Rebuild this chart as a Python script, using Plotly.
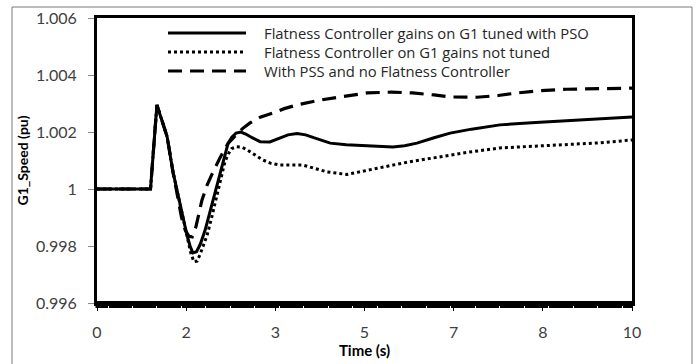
import plotly.graph_objects as go

# ---------------- data ----------------
t_tuned = [0, 1.0, 1.12, 1.31, 1.42, 1.55, 1.68, 1.74, 1.79, 1.86, 1.93, 2.02, 2.11, 2.20, 2.30,
           2.38, 2.45, 2.52, 2.60, 2.69, 2.78, 2.90, 3.05, 3.23, 3.40, 3.57, 3.74, 3.90, 4.05,
           4.36, 4.66, 4.97, 5.25, 5.53, 5.75, 5.98, 6.3, 6.6, 7.0, 7.53, 8.2, 8.78, 9.4, 10]
v_tuned = [1.0, 1.0, 1.00295, 1.00184, 1.0006, 0.99944, 0.99839, 0.99800, 0.99776, 0.99780,
           0.99806, 0.99855, 0.99919, 0.99990, 1.0006, 1.00118, 1.00160, 1.00182, 1.00196,
           1.0020, 1.00193, 1.00180, 1.00166, 1.00165, 1.00178, 1.00190, 1.00195, 1.00190,
           1.0018, 1.00161, 1.00155, 1.00153, 1.00150, 1.00147, 1.00152, 1.00161, 1.00180,
           1.00196, 1.0021, 1.00225, 1.00233, 1.00239, 1.00245, 1.00253]

t_untuned = [0, 1.0, 1.12, 1.31, 1.42, 1.55, 1.68, 1.75, 1.81, 1.87, 1.93, 2.06, 2.15, 2.24,
             2.32, 2.39, 2.46, 2.52, 2.61, 2.70, 2.80, 2.90, 3.10, 3.25, 3.42, 3.85, 4.10,
             4.30, 4.67, 5.05, 5.35, 5.80, 6.28, 6.9, 7.53, 8.2, 8.78, 9.4, 10]
v_untuned = [1.0, 1.0, 1.00295, 1.00184, 1.0006, 0.99944, 0.99839, 0.99778, 0.99745, 0.99747,
             0.99772, 0.99839, 0.99905, 0.99979, 1.00045, 1.00095, 1.00125, 1.00142, 1.00148,
             1.00147, 1.00138, 1.00126, 1.00102, 1.0009, 1.00084, 1.00084, 1.00072, 1.0006,
             1.00051, 1.00067, 1.00077, 1.00094, 1.00109, 1.00128, 1.00144, 1.0015, 1.00154,
             1.00162, 1.00172]

t_pss = [0, 1.0, 1.12, 1.31, 1.42, 1.50, 1.58, 1.65, 1.72, 1.78, 1.85, 1.96, 2.06, 2.15, 2.30,
         2.45, 2.60, 2.72, 2.86, 3.05, 3.29, 3.50, 3.74, 4.17, 4.54, 5.05, 5.5, 5.9, 6.3, 6.6,
         7.1, 7.5, 7.85, 8.3, 8.78, 10]
v_pss = [1.0, 1.0, 1.00295, 1.00184, 1.0006, 0.99975, 0.99900, 0.99855, 0.99834, 0.99832,
         0.99868, 0.99960, 1.00015, 1.00052, 1.0011, 1.00160, 1.0019, 1.00212, 1.00232,
         1.00252, 1.00267, 1.00282, 1.00295, 1.00312, 1.00323, 1.00337, 1.0034, 1.00337,
         1.0033, 1.00323, 1.00322, 1.00328, 1.00337, 1.00345, 1.0035, 1.00354]

series_names = ["Flatness Controller gains on G1 tuned with PSO",
                "Flatness Controller on G1 gains not tuned",
                "With PSS and no Flatness Controller"]

x_tickvals = [0, 10 / 6, 20 / 6, 5, 40 / 6, 50 / 6, 10]
x_ticktext = ["0", "2", "3", "5", "7", "8", "10"]
y_tickvals = [0.996, 0.998, 1.0, 1.002, 1.004, 1.006]
y_ticktext = ["0.996", "0.998", "1", "1.002", "1.004", "1.006"]

# ---------------- styling ----------------
W, H = 699, 364
ML, MR, MT, MB = 97, 67, 18, 61
PW, PH = W - ML - MR, H - MT - MB
FONT = "Lato"
LEGEND_FONT = "Open Sans"
styles = [dict(color="black", width=3, dash="solid"),
          dict(color="black", width=3, dash="dot"),
          dict(color="black", width=3.2, dash="14px,8px")]


def px_x(p):
    return (p - ML) / PW


def px_y(p):
    return (H - MB - p) / PH


fig = go.Figure()
for t, v, name, st in [(t_pss, v_pss, series_names[2], styles[2]),
                       (t_untuned, v_untuned, series_names[1], styles[1]),
                       (t_tuned, v_tuned, series_names[0], styles[0])]:
    fig.add_trace(go.Scatter(x=t, y=v, mode="lines", name=name,
                             line=dict(shape="linear", **st),
                             showlegend=False))

shapes = []
# outer frame
shapes.append(dict(type="rect", xref="paper", yref="paper",
                   x0=px_x(12), x1=px_x(692), y0=px_y(380), y1=px_y(7),
                   line=dict(color="#7a7a7a", width=1), layer="below"))
# thick bottom band (dense category tick marks)
shapes.append(dict(type="rect", xref="paper", yref="paper",
                   x0=px_x(95.5), x1=px_x(633), y0=px_y(308), y1=px_y(301),
                   line=dict(width=0), fillcolor="black", layer="below"))

annotations = []
rows = [33, 52, 71]
for i, (name, st) in enumerate(zip(series_names, styles)):
    shapes.append(dict(type="line", xref="paper", yref="paper",
                       x0=px_x(168), x1=px_x(246), y0=px_y(rows[i]), y1=px_y(rows[i]),
                       line=st))
    annotations.append(dict(xref="paper", yref="paper", x=px_x(263), y=px_y(rows[i]),
                            text=name, showarrow=False, xanchor="left", yanchor="middle",
                            borderpad=0,
                            font=dict(family=LEGEND_FONT, size=14.8, color="#262626")))

fig.update_layout(
    width=W, height=H,
    margin=dict(l=ML, r=MR, t=MT, b=MB, autoexpand=False),
    paper_bgcolor="white", plot_bgcolor="white",
    font=dict(family=FONT, size=16, color="#404040"),
    shapes=shapes, annotations=annotations,
    showlegend=False,
)
fig.update_xaxes(range=[0, 10], tickvals=x_tickvals, ticktext=x_ticktext,
                 automargin=False,
                 showgrid=False, zeroline=False,
                 showline=True, linecolor="black", linewidth=3, mirror=True,
                 ticks="outside", ticklen=5, tickcolor="black", tickwidth=1,
                 ticklabelstandoff=8,
                 minor=dict(ticks="outside", tick0=0.206, dtick=0.4575, ticklen=3,
                            tickcolor="white", tickwidth=1, showgrid=False),
                 tickfont=dict(family=FONT, size=16, color="#404040"),
                 title=dict(text="<b>Time (s)</b>", standoff=6,
                            font=dict(family=FONT, size=15, color="black")))
fig.update_yaxes(range=[0.996, 1.006], tickvals=y_tickvals, ticktext=y_ticktext,
                 automargin=False,
                 showgrid=False, zeroline=False,
                 showline=True, linecolor="black", linewidth=3, mirror=True,
                 ticks="outside", ticklen=6, tickcolor="#8a8a8a", tickwidth=1,
                 ticklabelstandoff=8,
                 tickfont=dict(family=FONT, size=16, color="#404040"),
                 title=dict(text="<b>G1_Speed (pu)</b>", standoff=4,
                            font=dict(family=FONT, size=14, color="black")))

fig.write_html("out.html")
